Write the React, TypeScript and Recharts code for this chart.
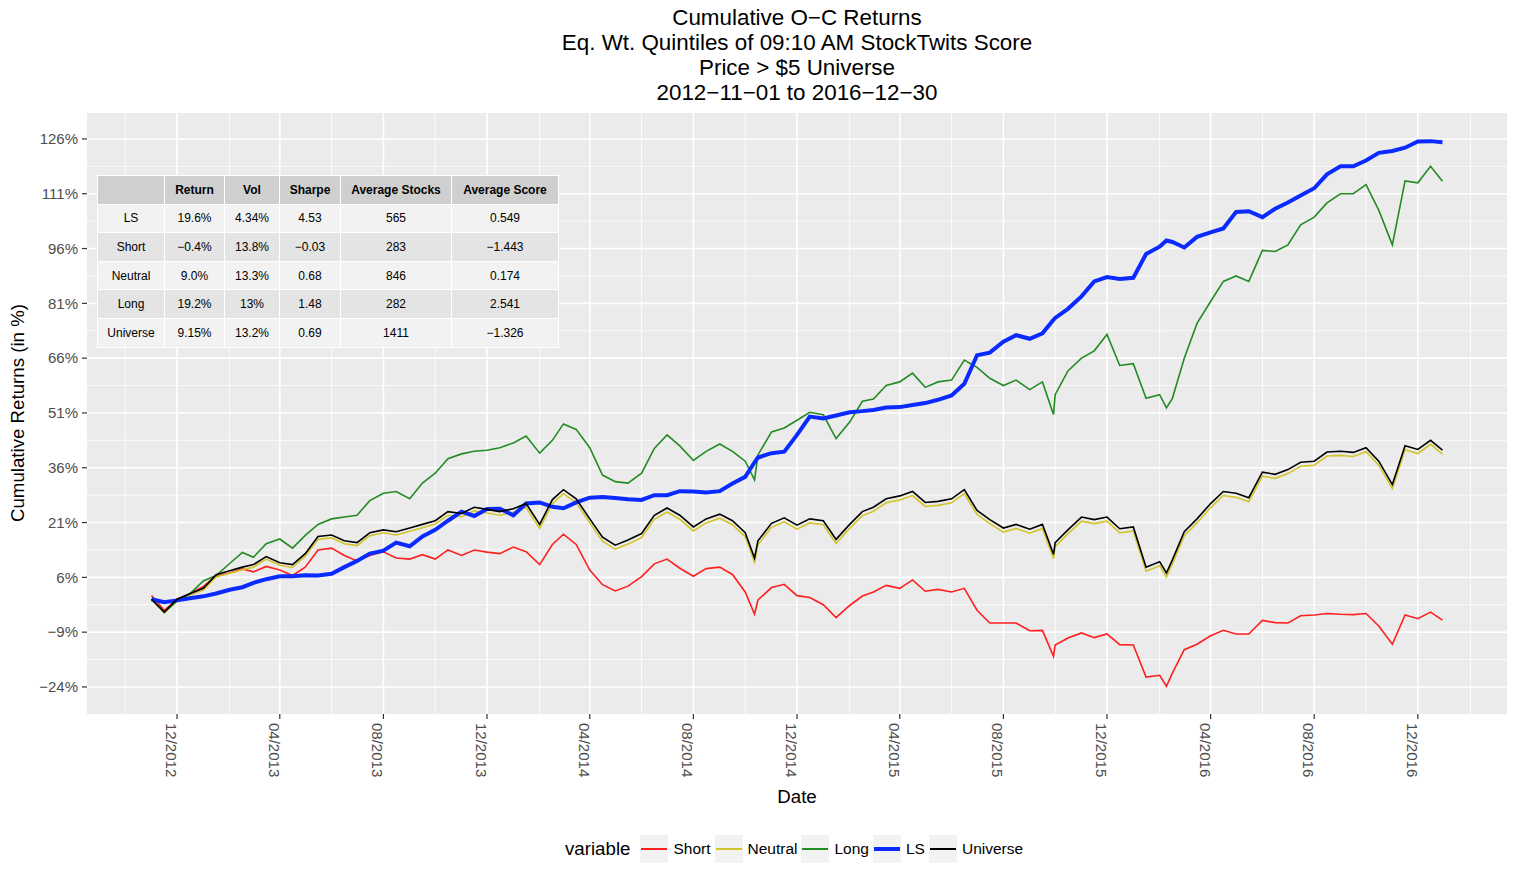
import React from "react";
import { LineChart, Line, XAxis, YAxis, CartesianGrid, Legend } from "recharts";

const FONT = '"Liberation Sans", Arial, Helvetica, sans-serif';

const titleLines = [
  "Cumulative O\u2212C Returns",
  "Eq. Wt. Quintiles of 09:10 AM StockTwits Score",
  "Price > $5 Universe",
  "2012\u221211\u221201 to 2016\u221212\u221230",
];

// sample dates (half-monthly, plus a few dips)
const dates = [
  "2012-11-01", "2012-11-16", "2012-12-01", "2012-12-16",
  "2013-01-01", "2013-01-16", "2013-02-01", "2013-02-16", "2013-03-01", "2013-03-16",
  "2013-04-01", "2013-04-16", "2013-05-01", "2013-05-16", "2013-06-01", "2013-06-16",
  "2013-07-01", "2013-07-16", "2013-08-01", "2013-08-16", "2013-09-01", "2013-09-16",
  "2013-10-01", "2013-10-16", "2013-11-01", "2013-11-16", "2013-12-01", "2013-12-16",
  "2014-01-01", "2014-01-16", "2014-02-01", "2014-02-16", "2014-03-01", "2014-03-16",
  "2014-04-01", "2014-04-16", "2014-05-01", "2014-05-16", "2014-06-01", "2014-06-16",
  "2014-07-01", "2014-07-16", "2014-08-01", "2014-08-16", "2014-09-01", "2014-09-16",
  "2014-10-01", "2014-10-12", "2014-10-16", "2014-11-01", "2014-11-16", "2014-12-01", "2014-12-16",
  "2015-01-01", "2015-01-16", "2015-02-01", "2015-02-16", "2015-03-01", "2015-03-16",
  "2015-04-01", "2015-04-16", "2015-05-01", "2015-05-16", "2015-06-01", "2015-06-16",
  "2015-07-01", "2015-07-16", "2015-08-01", "2015-08-16", "2015-09-01", "2015-09-16",
  "2015-09-29", "2015-10-01", "2015-10-16", "2015-11-01", "2015-11-16", "2015-12-01", "2015-12-16",
  "2016-01-01", "2016-01-16", "2016-02-01", "2016-02-09", "2016-02-16", "2016-03-01", "2016-03-16",
  "2016-04-01", "2016-04-16", "2016-05-01", "2016-05-16", "2016-06-01", "2016-06-16",
  "2016-07-01", "2016-07-16", "2016-08-01", "2016-08-16", "2016-09-01", "2016-09-16",
  "2016-10-01", "2016-10-16", "2016-11-01", "2016-11-16", "2016-12-01", "2016-12-16", "2016-12-30",
];

const shortRet = [
  1, -3, 0, 1.5,
  3.5, 6.3, 7.2, 8.3, 7.5, 9, 8, 6.5, 8.8, 13.5, 14, 12, 10.5, 12, 13, 11.3, 11, 12.2, 11, 13.5, 12, 13.5, 12.9, 12.5,
  14.3, 13, 9.5, 15, 17.8, 15, 8, 4, 2.3, 3.6, 6.2, 9.7, 11, 8.5, 6.3, 8.4, 8.8, 6.8, 2, -4.1, -0.2, 3.2, 4.1, 1, 0.5,
  -1.5, -5, -1.7, 0.9, 2, 3.8, 3, 5.3, 2.2, 2.7, 2, 3, -3, -6.5, -6.5, -6.5, -8.6, -8.5, -15.6, -12.5, -10.6, -9.2, -10.5, -9.5, -12.4,
  -12.5, -21.3, -20.8, -23.8, -20.2, -13.8, -12.3, -10, -8.5, -9.5, -9.5, -5.8, -6.4, -6.5, -4.5, -4.3, -3.9, -4.1, -4.2, -3.9, -7.3, -12.3, -4.3, -5.3, -3.5, -5.7,
];

const neutralRet = [
  0, -3.8, -0.4, 1.1,
  2.5, 6.1, 7.1, 8.1, 8.8, 11, 9.3, 8.7, 11.8, 16.4, 16.8, 15.2, 14.7, 17.4, 18.2, 17.6, 18.6, 19.6, 20.6, 23, 22.6, 24.2, 23.6, 23,
  23.8, 25.1, 19.4, 26.2, 28.9, 26.4, 20.9, 15.9, 13.7, 15.1, 16.9, 21.9, 23.9, 21.9, 18.7, 20.9, 22.2, 20.4, 17.1, 10.2, 14.9, 19.7, 21.2, 19.2, 20.9,
  20.4, 15.3, 19.4, 22.9, 24.1, 26.4, 27.2, 28.4, 25.4, 25.7, 26.4, 28.9, 23.2, 20.7, 18.4, 19.4, 18.1, 19.4, 11.2, 14.4, 17.9, 21.4, 20.7, 21.4, 18.2,
  18.7, 7.7, 9.2, 6.1, 9.7, 17.4, 20.9, 25.1, 28.4, 27.9, 26.7, 33.7, 33.1, 34.4, 36.4, 36.7, 39.2, 39.4, 39.1, 40.4, 36.7, 30.3, 40.9, 39.9, 42.4, 39.7,
];

const longRet = [
  0, -3.5, -0.5, 1.5,
  5, 6.5, 9.8, 12.8, 11.5, 15.2, 16.5, 14, 17.5, 20.5, 22, 22.5, 23, 27, 29, 29.5, 27.5, 31.8, 34.5, 38.5, 39.8, 40.5, 40.8, 41.5,
  42.8, 44.7, 40, 43.5, 48, 46.5, 41.5, 34, 32.2, 31.8, 34.5, 41.3, 45, 42, 38, 40.5, 42.5, 40.5, 37.8, 32.7, 39.5, 45.8, 46.9, 49, 51.2,
  50.5, 44, 48.5, 54.2, 54.8, 58.5, 59.5, 61.9, 58, 59.5, 60, 65.5, 63.5, 60.5, 58.5, 60, 57.4, 59.5, 50.6, 56, 62.5, 66, 68, 72.5, 64,
  64.5, 55, 56, 52.4, 55, 66, 75.5, 81.5, 87, 88.5, 87, 95.5, 95.2, 97, 102.5, 104.6, 108.5, 111, 111, 113.5, 106.5, 97, 114.5, 114, 118.5, 114.4,
];

const lsRet = [
  0, -0.8, -0.3, 0.3,
  0.8, 1.6, 2.6, 3.3, 4.5, 5.5, 6.3, 6.3, 6.6, 6.5, 7, 8.8, 10.5, 12.5, 13.3, 15.5, 14.5, 17.2, 19, 21.5, 24, 22.8, 24.7, 24.8,
  23, 26.2, 26.5, 25.3, 24.9, 26.5, 27.8, 28, 27.7, 27.4, 27.2, 28.5, 28.5, 29.6, 29.5, 29.2, 29.6, 31.7, 33.5, 37.5, 38.8, 40, 40.4, 45, 50,
  49.5, 50.3, 51.2, 51.5, 51.8, 52.5, 52.6, 53.2, 53.7, 54.6, 55.8, 59, 66.8, 67.5, 70.5, 72.3, 71.3, 72.8, 76.5, 77, 79.5, 82.9, 87, 88.2, 87.7,
  88, 94.5, 96.5, 98.2, 97.8, 96.3, 99.2, 100.4, 101.5, 106, 106.2, 104.6, 106.9, 108.6, 110.5, 112.5, 116.3, 118.5, 118.5, 120.1, 122.2, 122.7, 123.6, 125.3, 125.4, 125.1,
];

const universeRet = [
  0, -3.5, 0, 1.5,
  3, 6.7, 7.8, 8.8, 9.5, 11.7, 10, 9.5, 12.5, 17.2, 17.6, 16, 15.5, 18.2, 19, 18.5, 19.5, 20.5, 21.5, 24, 23.5, 25.2, 24.6, 24,
  24.8, 26.2, 20.5, 27.3, 30, 27.5, 22, 17, 14.8, 16.2, 18, 23, 25, 23, 19.8, 22, 23.3, 21.5, 18.2, 11.3, 16, 20.8, 22.3, 20.3, 22,
  21.5, 16.4, 20.5, 24, 25.2, 27.5, 28.3, 29.5, 26.5, 26.8, 27.5, 30, 24.3, 21.8, 19.5, 20.5, 19.2, 20.5, 12.3, 15.5, 19, 22.5, 21.8, 22.5, 19.3,
  19.8, 8.8, 10.3, 7.2, 10.8, 18.5, 22, 26.2, 29.5, 29, 27.8, 34.8, 34.2, 35.5, 37.5, 37.8, 40.3, 40.5, 40.2, 41.5, 37.8, 31.4, 42, 41, 43.5, 40.8,
];

const xTickDates = [
  "2012-12-01", "2013-04-01", "2013-08-01", "2013-12-01", "2014-04-01", "2014-08-01", "2014-12-01",
  "2015-04-01", "2015-08-01", "2015-12-01", "2016-04-01", "2016-08-01", "2016-12-01",
];
const xTickLabels = [
  "12/2012", "04/2013", "08/2013", "12/2013", "04/2014", "08/2014", "12/2014",
  "04/2015", "08/2015", "12/2015", "04/2016", "08/2016", "12/2016",
];
const xMinorDates = [
  "2012-10-01", "2013-02-01", "2013-06-01", "2013-10-01", "2014-02-01", "2014-06-01", "2014-10-01",
  "2015-02-01", "2015-06-01", "2015-10-01", "2016-02-01", "2016-06-01", "2016-10-01", "2017-02-01",
];
const yTicks = [-24, -9, 6, 21, 36, 51, 66, 81, 96, 111, 126];
const yMinor = [-16.5, -1.5, 13.5, 28.5, 43.5, 58.5, 73.5, 88.5, 103.5, 118.5];

const tableHeader = ["", "Return", "Vol", "Sharpe", "Average Stocks", "Average Score"];
const tableRows = [
  ["LS", "19.6%", "4.34%", "4.53", "565", "0.549"],
  ["Short", "\u22120.4%", "13.8%", "\u22120.03", "283", "\u22121.443"],
  ["Neutral", "9.0%", "13.3%", "0.68", "846", "0.174"],
  ["Long", "19.2%", "13%", "1.48", "282", "2.541"],
  ["Universe", "9.15%", "13.2%", "0.69", "1411", "\u22121.326"],
];
const colWidths = [66, 59, 54, 60, 110, 106];

const series = [
  { key: "Short", values: shortRet, color: "#FF1F1F", width: 1.6 },
  { key: "Neutral", values: neutralRet, color: "#D2C42C", width: 1.6 },
  { key: "Long", values: longRet, color: "#238B23", width: 1.6 },
  { key: "LS", values: lsRet, color: "#0A2AFF", width: 4 },
  { key: "Universe", values: universeRet, color: "#000000", width: 1.6 },
];

const data = dates.map((d, i) => {
  const row: Record<string, number> = { t: Date.parse(d) };
  series.forEach((s) => {
    row[s.key] = s.values[i];
  });
  return row;
});

const tStart = Date.parse(dates[0]);
const tEnd = Date.parse(dates[dates.length - 1]);
const pad = (tEnd - tStart) * 0.05;
const xTicks = xTickDates.map((d) => Date.parse(d));
const xMinor = xMinorDates.map((d) => Date.parse(d));

const fmtPct = (v: number) => (v < 0 ? `\u2212${Math.abs(v)}%` : `${v}%`);

function XTick(props: any) {
  const { x, y, payload } = props;
  const label = xTickLabels[xTicks.indexOf(payload.value)];
  return (
    <g transform={`translate(${x},${y})`}>
      <text transform="rotate(90)" x={2} y={0} dy={11} textAnchor="start" fill="#4D4D4D" fontSize={15} fontFamily={FONT}>
        {label}
      </text>
    </g>
  );
}

// legend keeps the series order (Recharts would sort by name)
function LegendBox() {
  return (
    <div style={{ display: "flex", alignItems: "center", height: 28, fontFamily: FONT, color: "#000" }}>
      <span style={{ fontSize: 18.7, marginRight: 10 }}>variable</span>
      {series.map((s) => (
        <div key={s.key} style={{ display: "flex", alignItems: "center", marginRight: 4 }}>
          <div style={{ width: 28, height: 28, background: "#F2F2F2", display: "flex", alignItems: "center", justifyContent: "center" }}>
            <div style={{ width: 26, height: s.width > 2 ? 4 : 2, background: s.color }} />
          </div>
          <span style={{ fontSize: 15.5, marginLeft: 5 }}>{s.key}</span>
        </div>
      ))}
    </div>
  );
}

export default function App() {
  return (
    <div style={{ position: "absolute", left: 0, top: 0, width: 1515, height: 871, background: "#fff", fontFamily: FONT }}>
      <LineChart width={1515} height={871} data={data} margin={{ top: 113, right: 8, bottom: 0, left: 0 }}>
        <CartesianGrid fill="#EBEBEB" stroke="#FFFFFF" strokeWidth={0.8} horizontalValues={yMinor} verticalValues={xMinor} />
        <CartesianGrid stroke="#FFFFFF" strokeWidth={1.6} horizontalValues={yTicks} verticalValues={xTicks} />
        <XAxis
          dataKey="t"
          type="number"
          domain={[tStart - pad, tEnd + pad]}
          allowDataOverflow
          ticks={xTicks}
          interval={0}
          height={157}
          axisLine={false}
          tickSize={5}
          tickLine={{ stroke: "#333333", strokeWidth: 1.2 }}
          tick={<XTick />}
        />
        <YAxis
          type="number"
          domain={[-31.4, 133.1]}
          allowDataOverflow
          ticks={yTicks}
          interval={0}
          width={87}
          axisLine={false}
          tickSize={5}
          tickMargin={4}
          tickLine={{ stroke: "#333333", strokeWidth: 1.2 }}
          tickFormatter={fmtPct}
          tick={{ fill: "#4D4D4D", fontSize: 15, fontFamily: FONT }}
        />
        {series.map((s) => (
          <Line
            key={s.key}
            type="linear"
            dataKey={s.key}
            name={s.key}
            stroke={s.color}
            strokeWidth={s.width}
            dot={false}
            activeDot={false}
            isAnimationActive={false}
          />
        ))}
        <Legend
          layout="horizontal"
          verticalAlign="middle"
          align="center"
          content={<LegendBox />}
          wrapperStyle={{ left: 565, top: 835, width: 480, height: 28 }}
        />
      </LineChart>

      <div style={{ position: "absolute", left: 297, top: 4.5, width: 1000, textAlign: "center", fontSize: 22.4, lineHeight: "25px", color: "#000" }}>
        {titleLines.map((l) => (
          <div key={l}>{l}</div>
        ))}
      </div>

      <div style={{ position: "absolute", left: 647, top: 785, width: 300, textAlign: "center", fontSize: 18.7, lineHeight: "24px", color: "#000" }}>
        Date
      </div>

      <div
        style={{
          position: "absolute",
          left: 18 - 150,
          top: 413 - 12,
          width: 300,
          height: 24,
          textAlign: "center",
          fontSize: 18.7,
          lineHeight: "24px",
          color: "#000",
          transform: "rotate(-90deg)",
        }}
      >
        Cumulative Returns (in %)
      </div>

      <table
        style={{
          position: "absolute",
          left: 97,
          top: 175,
          borderCollapse: "separate",
          borderSpacing: 1,
          background: "#FFFFFF",
          fontSize: 12,
          fontFamily: FONT,
          color: "#000",
        }}
      >
        <tbody>
          <tr>
            {tableHeader.map((h, i) => (
              <td key={i} style={{ width: colWidths[i], height: 27.6, padding: 0, background: "#CFCFCF", textAlign: "center", fontWeight: "bold" }}>
                {h}
              </td>
            ))}
          </tr>
          {tableRows.map((r, ri) => (
            <tr key={ri}>
              {r.map((c, ci) => (
                <td key={ci} style={{ width: colWidths[ci], height: 27.6, padding: 0, background: ri % 2 === 0 ? "#F2F2F2" : "#E4E4E4", textAlign: "center" }}>
                  {c}
                </td>
              ))}
            </tr>
          ))}
        </tbody>
      </table>
    </div>
  );
}
